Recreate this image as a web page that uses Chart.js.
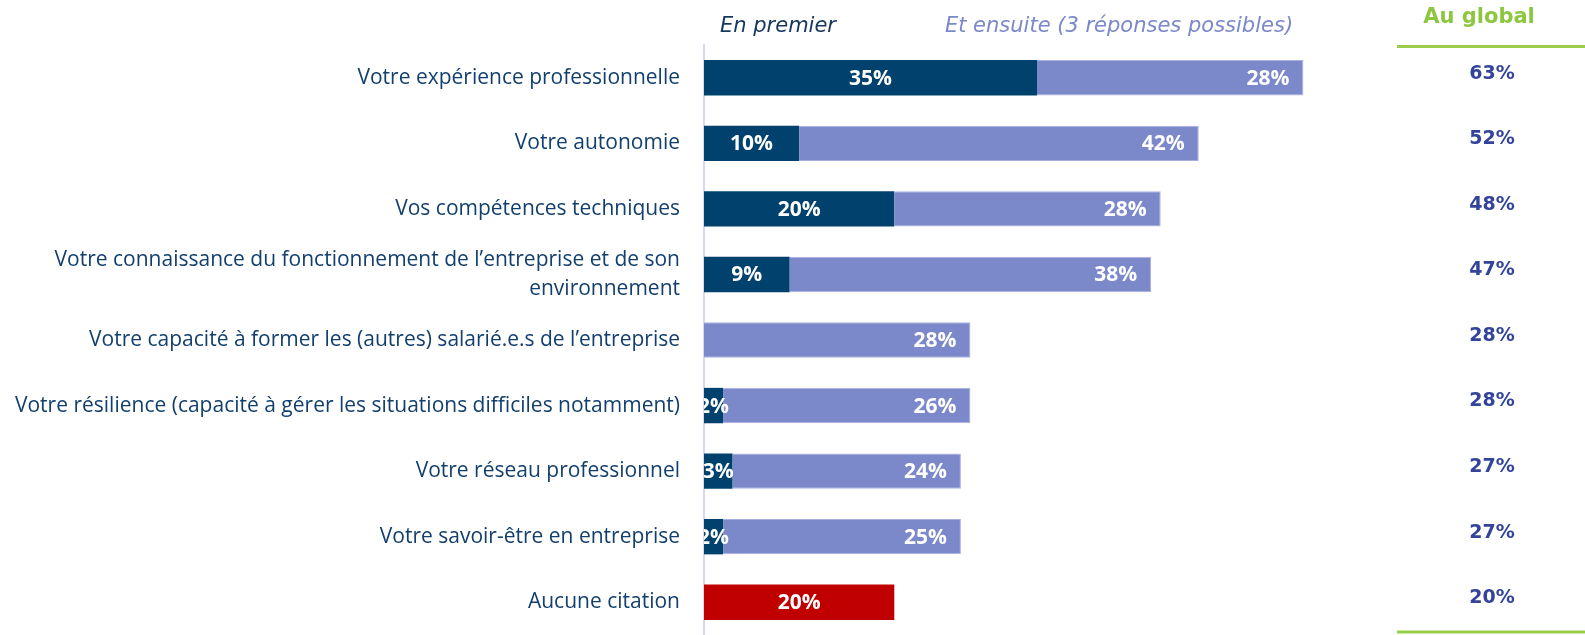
<!DOCTYPE html>
<html>
<head>
<meta charset="utf-8">
<script src="https://cdn.jsdelivr.net/npm/chart.js@4"></script>
<style>
  html, body { margin: 0; padding: 0; background: #fff; }
  #wrap { width: 1585px; height: 635px; position: relative; }
</style>
</head>
<body>
<div id="wrap"><canvas id="barChart"></canvas></div>
<script>
const categories = [
  'Votre expérience professionnelle',
  'Votre autonomie',
  'Vos compétences techniques',
  ['Votre connaissance du fonctionnement de l\u2019entreprise et de son', 'environnement'],
  'Votre capacité à former les (autres) salarié.e.s de l\u2019entreprise',
  'Votre résilience (capacité à gérer les situations difficiles notamment)',
  'Votre réseau professionnel',
  'Votre savoir-être en entreprise',
  'Aucune citation'
];
const enPremier = [35, 10, 20, 9, null, 2, 3, 2, null];
const ensuite = [28, 42, 28, 38, 28, 26, 24, 25, null];
const aucune = [null, null, null, null, null, null, null, null, 20];
const auGlobal = [63, 52, 48, 47, 28, 28, 27, 27, 20];

const DARK = '#00416e';
const LIGHT = '#7b88ca';
const RED = '#c00000';

// labels inside bars + header texts + "Au global" column
const extras = {
  id: 'extras',
  afterDatasetsDraw(chart) {
    const ctx = chart.ctx;
    const area = chart.chartArea;
    ctx.save();
    ctx.beginPath();
    ctx.rect(area.left, area.top - 5, area.right - area.left, area.bottom - area.top + 5);
    ctx.clip();
    ctx.font = 'bold 21px "Open Sans"';
    ctx.fillStyle = '#fff';
    ctx.textBaseline = 'middle';
    chart.data.datasets.forEach((ds, di) => {
      chart.getDatasetMeta(di).data.forEach((bar, i) => {
        const v = ds.data[i];
        if (v == null) return;
        if (di === 1) {
          ctx.textAlign = 'right';
          ctx.fillText(v + '%', bar.x - 14, bar.y + 1);
        } else {
          ctx.textAlign = 'center';
          ctx.fillText(v + '%', (bar.x + bar.base) / 2, bar.y + 1);
        }
      });
    });
    ctx.restore();

    ctx.save();
    ctx.textBaseline = 'middle';
    ctx.textAlign = 'center';
    ctx.font = 'oblique 21px "DejaVu Sans"';
    ctx.fillStyle = '#17375e';
    ctx.fillText('En premier', area.left + 74, 27);
    ctx.fillStyle = LIGHT;
    ctx.fillText('Et ensuite (3 réponses possibles)', area.left + 415, 27);

    ctx.font = 'bold 21px "DejaVu Sans"';
    ctx.fillStyle = '#8dc63f';
    ctx.fillText('Au global', 1479, 18);
    ctx.strokeStyle = '#9acd4a';
    ctx.lineWidth = 3;
    ctx.beginPath();
    ctx.moveTo(1397, 46.5); ctx.lineTo(1585, 46.5);
    ctx.moveTo(1397, 632); ctx.lineTo(1585, 632);
    ctx.stroke();

    ctx.font = 'bold 19px "DejaVu Sans"';
    ctx.fillStyle = '#33449a';
    const y = chart.scales.y;
    auGlobal.forEach((v, i) => {
      ctx.fillText(v + '%', 1492, y.getPixelForValue(i) - 4);
    });
    ctx.restore();
  }
};

new Chart(document.getElementById('barChart'), {
  type: 'bar',
  data: {
    labels: categories,
    datasets: [
      { label: 'En premier', data: enPremier, backgroundColor: DARK },
      { label: 'Et ensuite', data: ensuite, backgroundColor: LIGHT, borderColor: '#a8b0de', borderWidth: 1, borderSkipped: 'left' },
      { label: 'Aucune citation', data: aucune, backgroundColor: RED }
    ]
  },
  options: {
    indexAxis: 'y',
    responsive: true,
    maintainAspectRatio: false,
    animation: false,
    layout: { padding: { top: 45, right: 215, bottom: 0, left: 0 } },
    datasets: { bar: { categoryPercentage: 1, barPercentage: 0.54 } },
    plugins: {
      legend: { display: false },
      tooltip: { enabled: false }
    },
    scales: {
      x: {
        stacked: true, min: 0, max: 70, display: false,
        grid: { display: false }
      },
      y: {
        stacked: true,
        grid: { display: false, drawTicks: false },
        border: { display: true, color: '#d6daf0', width: 2 },
        ticks: {
          color: '#123f6d',
          font: { family: 'Open Sans', size: 21, lineHeight: 1.35 },
          padding: 24,
          autoSkip: false
        },
        afterFit(scale) {
          scale.width = 704;
          scale.paddingTop = 0;
          scale.paddingBottom = 0;
        }
      }
    }
  },
  plugins: [extras]
});
</script>
</body>
</html>
